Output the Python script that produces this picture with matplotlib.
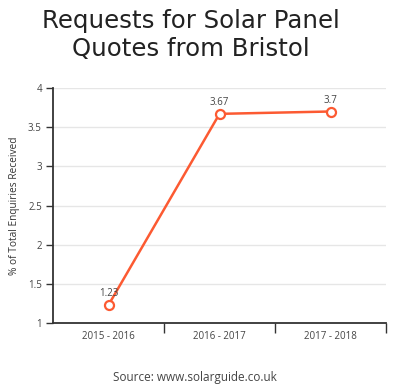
import matplotlib
matplotlib.use("Agg")
import matplotlib.pyplot as plt
import numpy as np

categories = ["2015 - 2016", "2016 - 2017", "2017 - 2018"]
values = [1.23, 3.67, 3.7]
yticks = [1, 1.5, 2, 2.5, 3, 3.5, 4]

W, H = 400, 389
fig = plt.figure(figsize=(W/100, H/100), dpi=100)
ax = fig.add_axes([53/W, 1-323/H, (386-53)/W, (323-88)/H])

x = np.arange(len(categories))
color = "#fc5a32"
ax.plot(x, values, color=color, lw=1.8, marker="o", ms=6.5, mfc="white", mec=color, mew=1.6, zorder=3, clip_on=False)
for xi, v in zip(x, values):
    ax.annotate(f"{v:g}", (xi, v), xytext=(0, 4), textcoords="offset points", ha="center", va="bottom",
                fontsize=7, color="#444444", family="Open Sans")

ax.set_xlim(-0.5, 2.5)
ax.set_ylim(1, 4)
ax.set_yticks(yticks)
ax.set_yticklabels([f"{t:g}" for t in yticks], fontsize=7, color="#444444", family="Open Sans")
ax.set_xticks(x)
ax.set_xticklabels(categories, fontsize=7, color="#444444", family="Open Sans")
ax.tick_params(axis="x", length=0, pad=6)
ax.set_xticks([0.5, 1.5, 2.5], minor=True)
ax.tick_params(axis="x", which="minor", length=7, width=1, color="#333333")
ax.tick_params(axis="y", length=5, width=1, color="#333333", pad=3)
ax.grid(axis="y", color="#e6e6e6", lw=1)
ax.set_axisbelow(True)
for s in ["top", "right"]:
    ax.spines[s].set_visible(False)
for s in ["left", "bottom"]:
    ax.spines[s].set_color("#333333")
    ax.spines[s].set_linewidth(1.3)
ax.set_ylabel("% of Total Enquiries Received", fontsize=7.3, color="#333333", family="Open Sans", labelpad=6)

fig.text(191/W, 1-35/H, "Requests for Solar Panel\nQuotes from Bristol", ha="center", va="center",
         fontsize=17.6, color="#222222", family="DejaVu Sans", linespacing=1.2)
fig.text(195/W, 1-378/H, "Source: www.solarguide.co.uk", ha="center", va="center",
         fontsize=8.5, color="#444444", family="Open Sans")

fig.savefig("out.png", dpi=100, facecolor="white")
